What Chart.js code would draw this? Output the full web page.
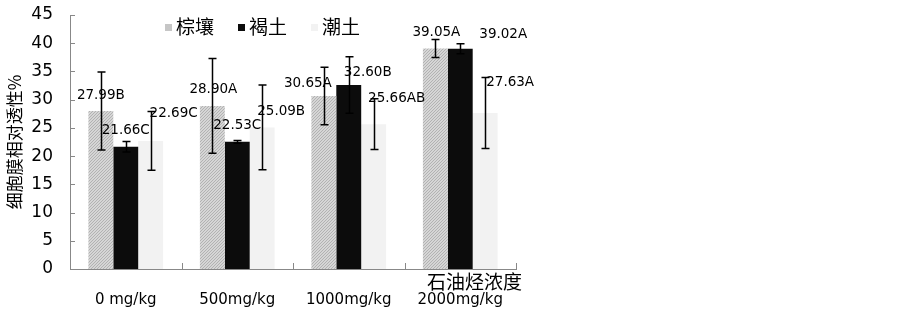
<!DOCTYPE html>
<html>
<head>
<meta charset="utf-8">
<script src="https://cdn.jsdelivr.net/npm/chart.js@4.4.1/dist/chart.umd.min.js"></script>
<style>
  html, body { margin: 0; padding: 0; background: #fff; }
  #wrap { width: 903px; height: 312px; }
</style>
</head>
<body>
<div id="wrap"><canvas id="chart"></canvas></div>
<script>
// Data
const categories = ["0 mg/kg", "500mg/kg", "1000mg/kg", "2000mg/kg"];
const seriesNames = ["棕壤", "褐土", "潮土"];
const brownSoil   = [27.99, 28.90, 30.65, 39.05];   // 棕壤
const cinnamonSoil = [21.66, 22.53, 32.60, 39.02];  // 褐土
const fluvoSoil   = [22.69, 25.09, 25.66, 27.63];   // 潮土
const brownErr    = [6.9, 8.4, 5.1, 1.6];
const cinnamonErr = [0.95, 0.25, 5.0, 0.9];
const fluvoErr    = [5.2, 7.5, 4.5, 6.3];
const brownTags    = ["27.99B", "28.90A", "30.65A", "39.05A"];
const cinnamonTags = ["21.66C", "22.53C", "32.60B", "39.02A"];
const fluvoTags    = ["22.69C", "25.09B", "25.66AB", "27.63A"];
const yTicks = [0, 5, 10, 15, 20, 25, 30, 35, 40, 45];

// label nudges in px [dx, dy above bar top] (labels were dragged by hand in the original)
const labelNudge = [
  [[0, 16], [1, 16], [-16, 12], [1, 16]],
  [[0, 16], [0, 16], [19, 12], [43, 14]],
  [[23, 27], [19, 16], [23, 26], [25, 31]]
];

// hatched fill for 棕壤
function hatch() {
  const c = document.createElement("canvas");
  c.width = 3; c.height = 3;
  const g = c.getContext("2d");
  g.fillStyle = "#d6d6d6";
  g.fillRect(0, 0, 3, 3);
  g.fillStyle = "#b2b2b2";
  for (let i = 0; i < 3; i++) g.fillRect(i, 2 - i, 1, 1);
  return g.createPattern(c, "repeat");
}

const colors = [hatch(), "#0c0c0c", "#f2f2f2"];
const legendColors = ["#c6c6c6", "#0c0c0c", "#f2f2f2"];
const errs = [brownErr, cinnamonErr, fluvoErr];
const tags = [brownTags, cinnamonTags, fluvoTags];

const numFont = "'DejaVu Sans', sans-serif";
const cjkFont = "'Noto Sans CJK SC', sans-serif";

// Extras: inner ticks, error bars, labels, legend, x title
const extras = {
  id: "extras",
  afterDatasetsDraw(chart) {
    const ctx = chart.ctx;
    const y = chart.scales.y, x = chart.scales.x;
    const area = chart.chartArea;
    ctx.save();

    // inner tick marks
    ctx.strokeStyle = "#888";
    ctx.lineWidth = 1;
    ctx.beginPath();
    yTicks.forEach(v => {
      const py = Math.round(y.getPixelForValue(v)) + 0.5;
      ctx.moveTo(area.left, py);
      ctx.lineTo(area.left + 5, py);
    });
    const half = (x.getPixelForValue(1) - x.getPixelForValue(0)) / 2;
    for (let i = 0; i < categories.length; i++) {
      const px = Math.round(x.getPixelForValue(i) + half) + 0.5;
      ctx.moveTo(px, area.bottom);
      ctx.lineTo(px, area.bottom - 6);
    }
    ctx.stroke();

    // error bars
    ctx.strokeStyle = "#000";
    ctx.lineWidth = 1.5;
    chart.data.datasets.forEach((ds, di) => {
      const meta = chart.getDatasetMeta(di);
      meta.data.forEach((bar, i) => {
        const v = ds.data[i], e = errs[di][i];
        const top = y.getPixelForValue(v + e), bot = y.getPixelForValue(v - e);
        const bx = Math.round(bar.x) + 0.5;
        ctx.beginPath();
        ctx.moveTo(bx, top); ctx.lineTo(bx, bot);
        ctx.moveTo(bx - 4, top); ctx.lineTo(bx + 4, top);
        ctx.moveTo(bx - 4, bot); ctx.lineTo(bx + 4, bot);
        ctx.stroke();
      });
    });

    // value labels
    ctx.fillStyle = "#000";
    ctx.font = "13.5px " + numFont;
    ctx.textAlign = "center";
    ctx.textBaseline = "middle";
    chart.data.datasets.forEach((ds, di) => {
      const meta = chart.getDatasetMeta(di);
      meta.data.forEach((bar, i) => {
        const n = labelNudge[di][i];
        ctx.fillText(tags[di][i], bar.x + n[0], y.getPixelForValue(ds.data[i]) - n[1]);
      });
    });

    // legend
    ctx.font = "19px " + cjkFont;
    ctx.textAlign = "left";
    let lx = area.left + 95;
    const ly = 27;
    seriesNames.forEach((name, i) => {
      ctx.fillStyle = legendColors[i];
      ctx.fillRect(lx, ly - 3, 7, 7);
      ctx.fillStyle = "#000";
      ctx.fillText(name, lx + 11, ly);
      lx += 11 + ctx.measureText(name).width + 24;
    });

    // x axis title
    ctx.textAlign = "right";
    ctx.font = "19px " + cjkFont;
    ctx.fillText("石油烃浓度", area.right + 6, area.bottom + 13);
    ctx.restore();
  }
};

new Chart(document.getElementById("chart"), {
  type: "bar",
  data: {
    labels: categories,
    datasets: [
      { label: seriesNames[0], data: brownSoil, backgroundColor: colors[0] },
      { label: seriesNames[1], data: cinnamonSoil, backgroundColor: colors[1] },
      { label: seriesNames[2], data: fluvoSoil, backgroundColor: colors[2] }
    ]
  },
  options: {
    responsive: true,
    maintainAspectRatio: false,
    animation: false,
    layout: { padding: { top: 15, right: 387, bottom: 0, left: 0 } },
    datasets: { bar: { categoryPercentage: 0.67, barPercentage: 1.0, borderWidth: 0 } },
    plugins: { legend: { display: false }, tooltip: { enabled: false } },
    scales: {
      x: {
        grid: { display: false },
        border: { display: true, color: "#888", width: 1 },
        ticks: { color: "#000", font: { family: numFont, size: 15 }, padding: 14, maxRotation: 0, autoSkip: false },
        afterFit(s) { s.height = 43; s.paddingLeft = 0; s.paddingRight = 0; }
      },
      y: {
        min: 0, max: 45,
        afterBuildTicks(s) { s.ticks = yTicks.map(v => ({ value: v })); },
        grid: { display: false },
        border: { display: true, color: "#888", width: 1 },
        ticks: { color: "#000", font: { family: numFont, size: 17 }, padding: 9 },
        title: { display: true, text: "细胞膜相对透性%", color: "#000", font: { family: cjkFont, size: 17 }, padding: { top: 4, bottom: 0 } },
        afterFit(s) { s.width = 70; s.paddingTop = 0; s.paddingBottom = 0; }
      }
    }
  },
  plugins: [extras]
});
</script>
</body>
</html>
